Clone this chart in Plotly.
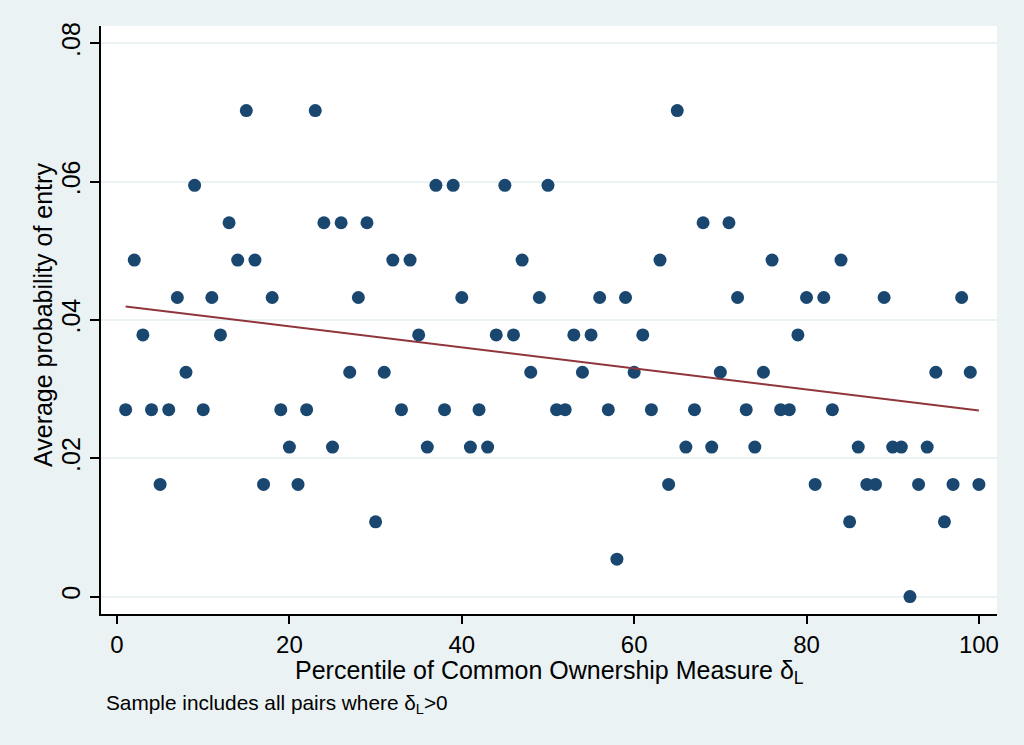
import numpy as np
import plotly.graph_objects as go

# Data: percentile (1..100) and average probability of entry
percentile = list(range(1, 101))
unit = 1 / 185.0
levels = [5, 9, 7, 5, 3, 5, 8, 6, 11, 5,
          8, 7, 10, 9, 13, 9, 3, 8, 5, 4,
          3, 5, 13, 10, 4, 10, 6, 8, 10, 2,
          6, 9, 5, 9, 7, 4, 11, 5, 11, 8,
          4, 5, 4, 7, 11, 7, 9, 6, 8, 11,
          5, 5, 7, 6, 7, 8, 5, 1, 8, 6,
          7, 5, 9, 3, 13, 4, 5, 10, 4, 6,
          10, 8, 5, 4, 6, 9, 5, 5, 7, 8,
          3, 8, 5, 9, 2, 4, 3, 3, 8, 4,
          4, 0, 3, 4, 6, 2, 3, 8, 6, 3]
prob_entry = [k * unit for k in levels]

y_tickvals = [0, 0.02, 0.04, 0.06, 0.08]
y_ticktext = ["0", ".02", ".04", ".06", ".08"]
x_tickvals = [0, 20, 40, 60, 80, 100]

# Linear fit
slope, intercept = np.polyfit(percentile, prob_entry, 1)
fit_x = [percentile[0], percentile[-1]]
fit_y = [intercept + slope * v for v in fit_x]

BG = "#EAF2F3"
NAVY = "#1A476F"
MAROON = "#90353B"
FONT = "Liberation Sans, Arial, sans-serif"

plot_l, plot_t, plot_r, plot_b = 101, 26, 997, 614
W, H = 1024, 745
pw, ph = plot_r - plot_l, plot_b - plot_t

def px(x):
    return (x - plot_l) / pw

def py(y):
    return (plot_b - y) / ph

fig = go.Figure()
fig.add_trace(go.Scatter(x=percentile, y=prob_entry, mode="markers",
                         marker=dict(color=NAVY, size=13, line=dict(width=0)),
                         showlegend=False))
fig.add_trace(go.Scatter(x=fit_x, y=fit_y, mode="lines",
                         line=dict(color=MAROON, width=2), showlegend=False))

fig.update_layout(
    width=W, height=H,
    margin=dict(l=plot_l, r=W - plot_r, t=plot_t, b=H - plot_b),
    paper_bgcolor=BG, plot_bgcolor="white",
    font=dict(family=FONT, color="black", size=24),
    xaxis=dict(range=[-1.86, 102.1], tickvals=x_tickvals,
               ticks="outside", ticklen=8, tickwidth=1.5, tickcolor="black",
               showline=True, linecolor="black", linewidth=1.5,
               showgrid=False, zeroline=False, automargin=False,
               tickfont=dict(size=24)),
    yaxis=dict(range=[-0.00252, 0.0825], tickvals=y_tickvals, ticktext=y_ticktext,
               ticks="outside", ticklen=9, tickwidth=1.5, tickcolor="black",
               showline=True, linecolor="black", linewidth=1.5,
               showgrid=True, gridcolor=BG, gridwidth=2, zeroline=False,
               automargin=False, tickangle=-90, tickfont=dict(size=25)),
    annotations=[
        dict(text="Percentile of Common Ownership Measure δ<sub>L</sub>",
             x=px(549), y=py(672), xref="paper", yref="paper", showarrow=False,
             xanchor="center", yanchor="middle", font=dict(size=25)),
        dict(text="Sample includes all pairs where δ<sub>L</sub>>0",
             x=px(104), y=py(704), xref="paper", yref="paper", showarrow=False,
             xanchor="left", yanchor="middle", font=dict(size=20.8)),
        dict(text="Average probability of entry",
             x=px(43), y=py(315), xref="paper", yref="paper", showarrow=False,
             xanchor="center", yanchor="middle", textangle=-90,
             font=dict(size=25)),
    ],
)

fig.write_html(
    "out.html",
    config={"displayModeBar": False},
    post_script=("document.body.style.margin='0';"
                 "document.body.style.background='" + BG + "';"),
)
